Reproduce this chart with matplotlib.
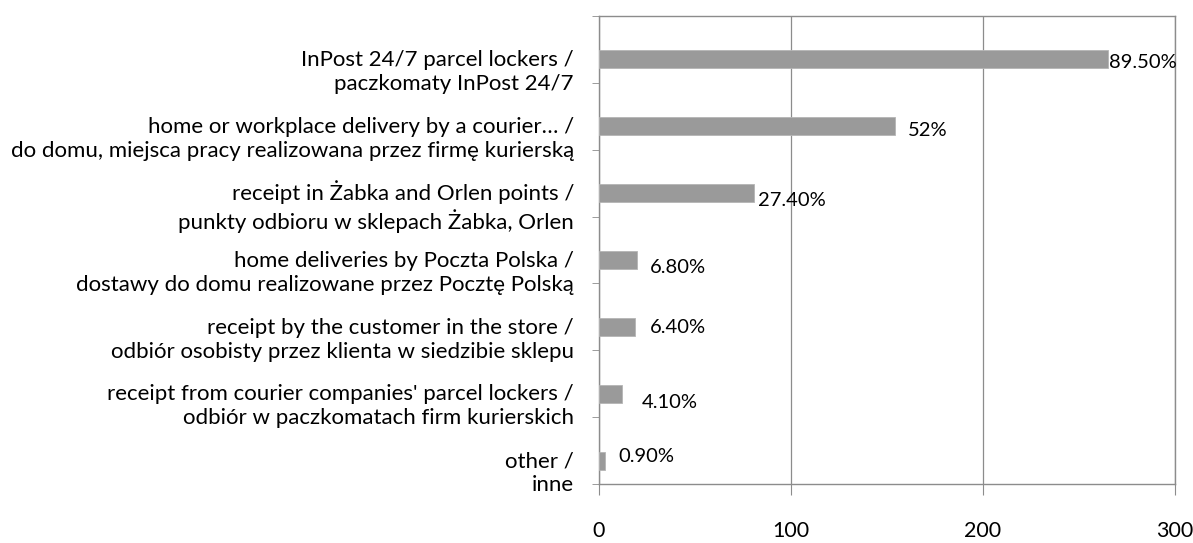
import matplotlib.pyplot as plt
from matplotlib.ticker import FixedLocator

# categories, top to bottom
categories = [
    "InPost 24/7 parcel lockers /\npaczkomaty InPost 24/7",
    "home or workplace delivery by a courier… /\ndo domu, miejsca pracy realizowana przez firmę kurierską",
    "receipt in Żabka and Orlen points /\npunkty odbioru w sklepach Żabka, Orlen",
    "home deliveries by Poczta Polska /\ndostawy do domu realizowane przez Pocztę Polską",
    "receipt by the customer in the store /\nodbiór osobisty przez klienta w siedzibie sklepu",
    "receipt from courier companies' parcel lockers /\nodbiór w paczkomatach firm kurierskich",
    "other /\ninne",
]
counts = [265, 154, 81, 20, 19, 12, 3]
pct_labels = ["89.50%", "52%", "27.40%", "6.80%", "6.40%", "4.10%", "0.90%"]
x_ticks = [0, 100, 200, 300]

# label nudges in pixels (dx, dy) - as placed by hand in the original
label_nudge = [(1, -3), (13, -4), (4, -7), (13, -7), (14, -1), (20, -9), (14, 4)]

plt.rcParams['font.family'] = ['Lato', 'DejaVu Sans']
grey = '#8c8c8c'

fig = plt.figure(figsize=(11.93, 5.43), dpi=100)
ax = fig.add_axes([0.502, 0.1087, 0.483, 0.8618])

n = len(categories)
pos = list(range(n))
bar_off = 0.15  # bars sit below the category centre
bars = ax.barh([p + bar_off for p in pos], counts, height=0.27,
               color='#9a9a9a', edgecolor='#b5b5b5', linewidth=0.6, zorder=3)

for b, txt, (dx, dy) in zip(bars, pct_labels, label_nudge):
    ax.annotate(txt, (b.get_width(), b.get_y() + b.get_height() / 2),
                xytext=(dx, dy), textcoords='offset pixels',
                ha='left', va='center', fontsize=14.5, color='black')

ax.set_xlim(0, 300)
ax.set_ylim(n - 0.5, -0.5)
ax.set_xticks(x_ticks)
ax.tick_params(axis='x', length=8, color=grey, pad=19, labelsize=15.5)

# category labels without tick marks, ticks at boundaries
ax.set_yticks([p + 0.28 for p in pos])
ax.set_yticklabels(categories, fontsize=16, linespacing=1.25)
ax.tick_params(axis='y', length=0, pad=18)
ax.yaxis.set_minor_locator(FixedLocator([p - 0.5 for p in range(n + 1)]))
ax.tick_params(axis='y', which='minor', length=5, color=grey)

for lab in ax.get_yticklabels():
    lab.set_multialignment('right')

ax.grid(True, axis='x', color=grey, linewidth=0.9, zorder=0)
for s in ax.spines.values():
    s.set_color(grey)
    s.set_linewidth(1.0)

fig.savefig('out.png', dpi=100)
